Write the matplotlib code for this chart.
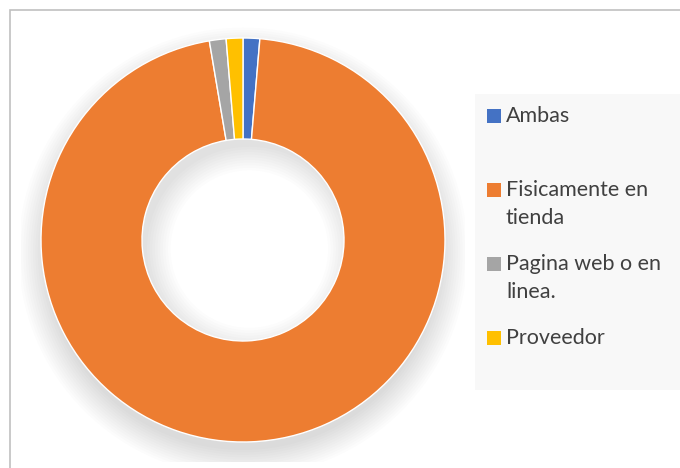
import matplotlib.pyplot as plt
from matplotlib.patches import Rectangle, Circle, Wedge

# data
labels = ["Ambas", "Fisicamente en\ntienda", "Pagina web o en\nlinea.", "Proveedor"]
values = [1, 72, 1, 1]
colors = ["#4472C4", "#ED7D31", "#A5A5A5", "#FFC000"]

plt.rcParams['font.family'] = ['Lato', 'DejaVu Sans']

W, H = 680, 468
fig = plt.figure(figsize=(W / 100, H / 100), dpi=100)
fig.patch.set_facecolor("white")

# outer chart frame (runs off right and bottom edges)
fig.patches.append(Rectangle((10 / W, -0.1), 1.2, (H - 10) / H + 0.1,
                             transform=fig.transFigure, fill=False,
                             edgecolor="#C0C0C0", linewidth=1.2))

# legend background
fig.patches.append(Rectangle((475 / W, (H - 390) / H), 0.5, (390 - 94) / H,
                             transform=fig.transFigure, facecolor="#F8F8F8",
                             edgecolor="none"))

# donut
cx, cy, r = 243, 240, 202
ax = fig.add_axes([(cx - r * 1.1) / W, (H - cy - r * 1.1) / H, 2.2 * r / W, 2.2 * r / H])
ax.axis("off")

# soft outer shadow, mostly below
for i in range(12):
    ax.add_patch(Circle((0, -0.06), 0.98 + 0.012 * i, facecolor="#000000",
                        alpha=0.011, edgecolor="none", zorder=0))
hole = Circle((0, 0), 0.5, facecolor="white", edgecolor="none", zorder=0.5)
ax.add_patch(hole)
# inner shadow in the hole (top-left edge)
d = 0.045
for i in range(10):
    w = 0.05 + 0.013 * i
    ring = Wedge((d * 0.7, -d), 0.5 + d * 1.25, 0, 360, width=w, facecolor="#000000",
                 alpha=0.013, edgecolor="none", zorder=0.6)
    ax.add_patch(ring)
    ring.set_clip_path(hole)

ax.pie(values, colors=colors, startangle=90, counterclock=False, radius=1,
       wedgeprops=dict(width=0.5, edgecolor="white", linewidth=1))
ax.set_aspect("equal")
ax.set_xlim(-1.1, 1.1)
ax.set_ylim(-1.1, 1.1)

# legend entries
entry_y = [116, 190, 264, 338]
for lab, col, y in zip(labels, colors, entry_y):
    fig.patches.append(Rectangle((487 / W, (H - y - 7) / H), 14 / W, 14 / H,
                                 transform=fig.transFigure, facecolor=col,
                                 edgecolor="none"))
    fig.text(506 / W, (H - y + 10) / H, lab, fontsize=15.5, color="#404040",
             va="top", ha="left", linespacing=1.5)

fig.savefig("out.png", dpi=100)
